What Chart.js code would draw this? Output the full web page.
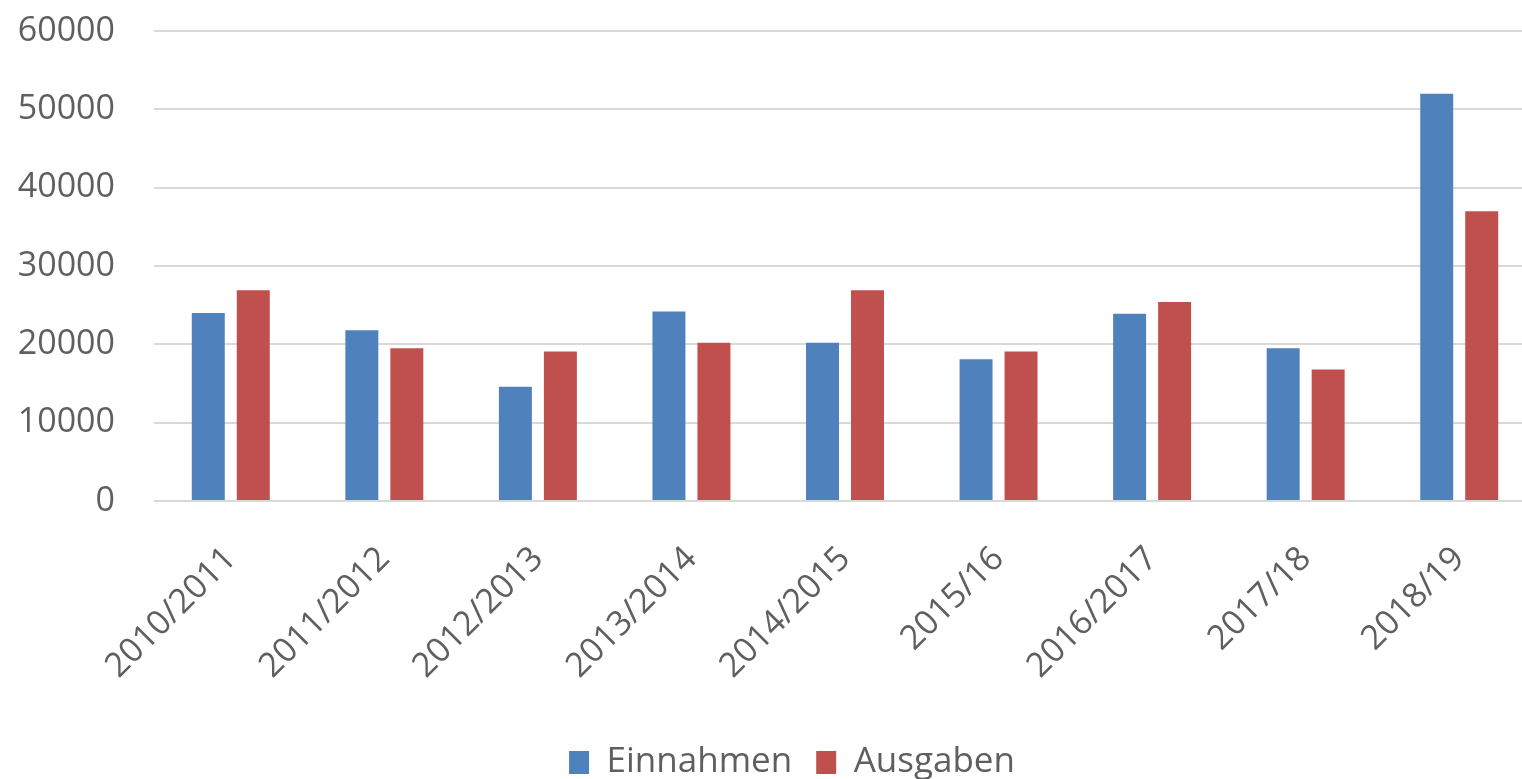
<!DOCTYPE html>
<html>
<head>
<meta charset="utf-8">
<script src="https://cdn.jsdelivr.net/npm/chart.js@4/dist/chart.umd.min.js"></script>
<style>
  html, body { margin: 0; padding: 0; background: #fff; overflow: hidden; }
  #wrap { width: 1522px; height: 779px; overflow: hidden; }
</style>
</head>
<body>
<div id="wrap"><canvas id="finanzen" width="1584" height="790"></canvas></div>
<script>
var jahre = ["2010/2011", "2011/2012", "2012/2013", "2013/2014", "2014/2015", "2015/16", "2016/2017", "2017/18", "2018/19"];
var einnahmen = [24000, 21800, 14600, 24200, 20200, 18100, 23900, 19500, 52000];
var ausgaben = [26900, 19500, 19100, 20200, 26900, 19100, 25400, 16800, 37000];
var yMin = 0, yMax = 60000, yStep = 10000;

var textGrau = "#5f5f5f";
var schrift = "'Open Sans', 'DejaVu Sans', sans-serif";

// Legende mittig über die ganze Bildbreite statt nur über den Innenbereich
var legendeMittig = {
    id: "legendeMittig",
    afterLayout: function (chart) {
        var versatz = chart.options.layout.padding.right / 2;
        chart.legend.left += versatz;
        chart.legend.right += versatz;
    }
};

function init_finanzen()
{
    var ctx = document.getElementById("finanzen");
    var data = {
        labels: jahre,
        datasets: [
        {
            label: "Einnahmen",
            backgroundColor: "#4f81bd",
            data: einnahmen
        },
        {
            label: "Ausgaben",
            backgroundColor: "#c0504d",
            data: ausgaben
        }]
    };

    var options = {
        responsive: false,
        animation: false,
        devicePixelRatio: 1,
        layout: { padding: { top: 31, right: 48, left: 0, bottom: 0 } },
        datasets: {
            bar: { categoryPercentage: 0.586, barPercentage: 0.733 }
        },
        plugins: {
            tooltip: { enabled: false },
            legend: {
                position: "bottom",
                labels: {
                    color: textGrau,
                    font: { family: schrift, size: 35 },
                    boxWidth: 20,
                    boxHeight: 23,
                    padding: 24
                }
            }
        },
        scales: {
            x: {
                grid: { display: false },
                border: { display: false },
                ticks: {
                    color: textGrau,
                    font: { family: schrift, size: 34 },
                    minRotation: 45,
                    maxRotation: 45,
                    autoSkip: false,
                    padding: 30
                },
                afterFit: function (scale) { scale.height = 220; }
            },
            y: {
                min: yMin,
                max: yMax,
                ticks: {
                    stepSize: yStep,
                    color: textGrau,
                    font: { family: schrift, size: 34 },
                    padding: 0,
                    callback: function (v) { return String(v); }
                },
                // unsichtbare Tick-Striche als Abstand zwischen Zahlen und Gitter
                grid: { color: "#d9d9d9", lineWidth: 2, drawTicks: true, tickLength: 39, tickColor: "rgba(0,0,0,0)" },
                border: { display: false },
                afterFit: function (scale) { scale.width = 154; }
            }
        }
    };

    new Chart(ctx, {
        type: "bar",
        data: data,
        options: options,
        plugins: [legendeMittig]
    });
}

init_finanzen();
</script>
</body>
</html>
